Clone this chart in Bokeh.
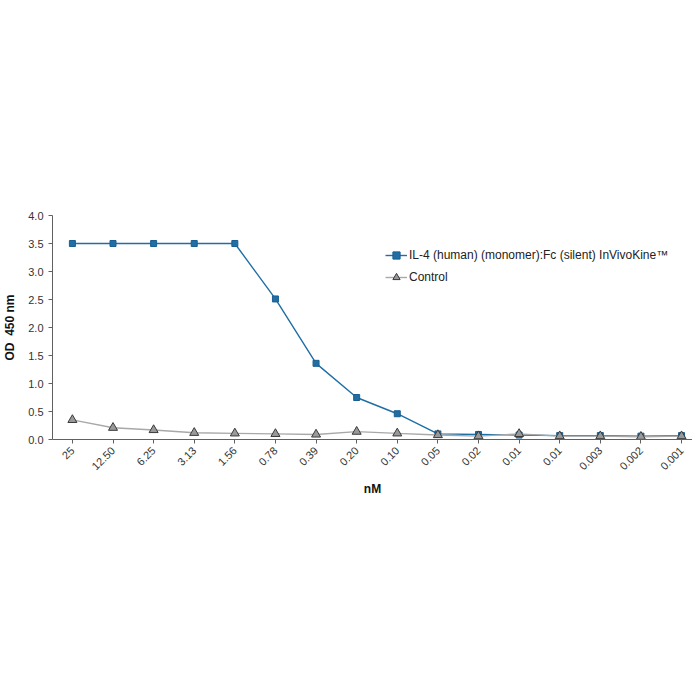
import math
from bokeh.plotting import figure
from bokeh.models import Range1d, FixedTicker, Legend, LegendItem
from bokeh.embed import file_html
from bokeh.resources import INLINE

concentrations = ["25", "12.50", "6.25", "3.13", "1.56", "0.78", "0.39", "0.20",
                  "0.10", "0.05", "0.02", "0.01", "0.01", "0.003", "0.002", "0.001"]
il4_values = [3.50, 3.50, 3.50, 3.50, 3.50, 2.51, 1.36, 0.75,
              0.46, 0.10, 0.09, 0.08, 0.07, 0.07, 0.06, 0.07]
control_values = [0.35, 0.21, 0.17, 0.12, 0.11, 0.10, 0.09, 0.14,
                  0.11, 0.08, 0.06, 0.10, 0.06, 0.06, 0.05, 0.06]
series_names = ["IL-4 (human) (monomer):Fc (silent) InVivoKine\u2122", "Control"]

xs = list(range(len(concentrations)))

p = figure(output_backend="svg", toolbar_location=None,
           frame_width=640, frame_height=224,
           min_border_left=46, min_border_top=215, min_border_right=0,
           min_border_bottom=240,
           x_range=Range1d(-0.49, 15.27), y_range=Range1d(0, 4.0))
p.outline_line_color = None
p.grid.grid_line_color = None
p.background_fill_color = "white"

FONT = "Liberation Sans"

l1 = p.line(xs, il4_values, line_color="#1f6ea6", line_width=1.4)
m1 = p.scatter(xs, il4_values, marker="square", size=6,
               fill_color="#1f6ea6", line_color="#1a5f8f")
l2 = p.line(xs, control_values, line_color="#a8a8a8", line_width=1.4)
m2 = p.scatter(xs, control_values, marker="triangle", size=9,
               fill_color="#999999", line_color="#3a3a3a", line_width=1)

p.xaxis.ticker = FixedTicker(ticks=xs)
p.xaxis.major_label_overrides = {i: c for i, c in enumerate(concentrations)}
p.xaxis.major_label_orientation = math.pi / 4
p.xaxis.minor_tick_line_color = None
p.yaxis.minor_tick_line_color = None
p.yaxis.ticker = FixedTicker(ticks=[0, 0.5, 1.0, 1.5, 2.0, 2.5, 3.0, 3.5, 4.0])
p.yaxis.major_label_overrides = {0: "0.0", 0.5: "0.5", 1.0: "1.0", 1.5: "1.5",
                                 2.0: "2.0", 2.5: "2.5", 3.0: "3.0", 3.5: "3.5", 4.0: "4.0"}
for ax in (p.xaxis, p.yaxis):
    ax.axis_line_color = "#606060"
    ax.major_tick_line_color = "#606060"
    ax.major_tick_out = 4
    ax.major_tick_in = 0
    ax.major_label_text_font = FONT
    ax.major_label_text_font_size = "11px"
    ax.major_label_text_color = "#333333"
    ax.axis_label_text_font = FONT
    ax.axis_label_text_font_style = "bold"
    ax.axis_label_text_font_size = "12px"
    ax.axis_label_text_color = "#111111"

p.xaxis.axis_label = "nM"
p.yaxis.axis_label = "OD\u00a0\u00a0450 nm"
p.yaxis.axis_label_standoff = 8

legend = Legend(items=[LegendItem(label=series_names[0], renderers=[l1, m1]),
                       LegendItem(label=series_names[1], renderers=[l2, m2])],
                location=(333, 153))
legend.background_fill_alpha = 0
legend.border_line_color = None
legend.padding = 0
legend.margin = 0
legend.spacing = 4
legend.label_text_font = FONT
legend.label_text_font_size = "12px"
legend.label_text_color = "#222222"
legend.glyph_width = 22
legend.glyph_height = 18
legend.label_height = 18
legend.label_standoff = 2
p.add_layout(legend, "center")

open("out.html", "w").write(file_html(p, INLINE))
